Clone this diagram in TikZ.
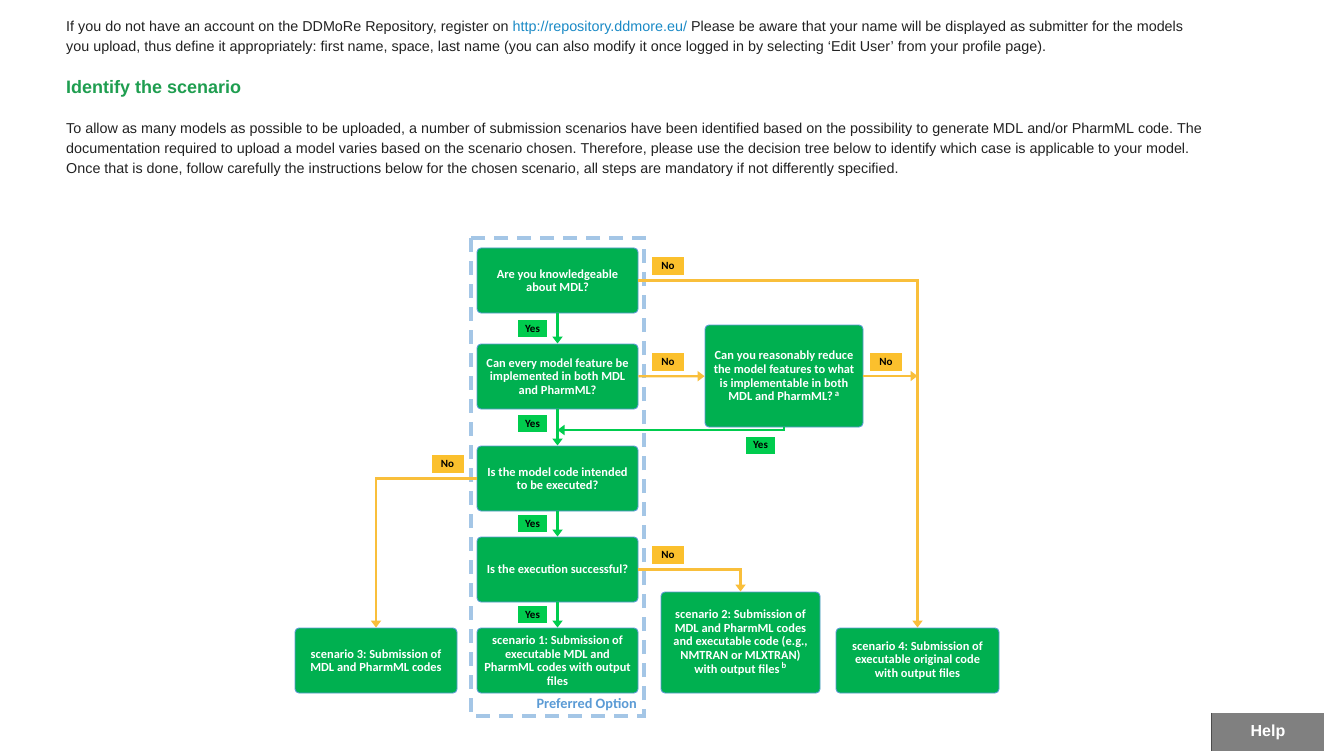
\documentclass[tikz,border=0pt]{standalone}
\usepackage{fontspec}
\usepackage{xcolor}
\usepackage{tikz}
\usetikzlibrary{arrows.meta}
\setmainfont{Liberation Sans}
\newfontfamily\flowfont{Carlito}
\frenchspacing

\definecolor{boxgreen}{HTML}{00B050}
\definecolor{boxedge}{HTML}{5B9BD5}
\definecolor{yesgreen}{HTML}{00CC4E}
\definecolor{nofill}{HTML}{FBC02D}
\definecolor{noline}{HTML}{F9BF3B}
\definecolor{dashblue}{HTML}{A4C6E6}
\definecolor{linkblue}{HTML}{1A8AC6}
\definecolor{headgreen}{HTML}{1F9E50}
\definecolor{bodytext}{HTML}{222222}

\begin{document}
\begin{tikzpicture}[x=1pt, y=-1pt,
    qbox/.style = {draw=boxedge, line width=0.9pt, fill=boxgreen, rounded corners=4pt,
      minimum width=161pt, minimum height=65pt, align=center, text=white,
      font=\flowfont\bfseries\fontsize{12.4}{13.6}\selectfont, inner sep=1pt},
    yeslab/.style = {fill=yesgreen, minimum width=29pt, minimum height=17pt, inner sep=0pt,
      font=\flowfont\bfseries\fontsize{11}{12}\selectfont},
    nolab/.style = {fill=nofill, minimum width=32pt, minimum height=18pt, inner sep=0pt,
      font=\flowfont\bfseries\fontsize{11}{12}\selectfont},
    yesline/.style = {draw=yesgreen, line width=2.2pt, -{Triangle[width=10pt,length=7pt]}},
    noline/.style = {draw=noline, line width=2.2pt, -{Triangle[width=10pt,length=7pt]}},
    bodyline/.style = {anchor=base west, inner sep=0pt, text=bodytext,
      font=\fontsize{14.35}{16}\selectfont}]
  \useasboundingbox[fill=white] (0,0) rectangle (1324,751);

  % page text
  \node[bodyline] (t1) at (66,32) {If you do not have an account on the DDMoRe Repository, register on \textcolor{linkblue}{http://repository.ddmore.eu/} Please be aware that your name will be displayed as submitter for the models};
  \node[bodyline] (t2) at (66,52) {you upload, thus define it appropriately: first name, space, last name (you can also modify it once logged in by selecting `Edit User' from your profile page).};
  \node[bodyline, text=headgreen, font=\bfseries\fontsize{18}{20}\selectfont] (head) at (66,94) {Identify the scenario};
  \node[bodyline] (p1) at (66,134) {To allow as many models as possible to be uploaded, a number of submission scenarios have been identified based on the possibility to generate MDL and/or PharmML code. The};
  \node[bodyline] (p2) at (66,154) {documentation required to upload a model varies based on the scenario chosen. Therefore, please use the decision tree below to identify which case is applicable to your model.};
  \node[bodyline] (p3) at (66,174) {Once that is done, follow carefully the instructions below for the chosen scenario, all steps are mandatory if not differently specified.};

  % preferred option frame
  \draw[dashblue, line width=3.5pt, dash pattern=on 14pt off 9pt] (471,238) rectangle (644,716);
  \node[anchor=base east, inner sep=0pt, text=boxedge, font=\flowfont\bfseries\fontsize{14.3}{16}\selectfont] (pref) at (637,708) {Preferred Option};

  % questions
  \node[qbox] (q1) at (557.5,280.5) {Are you knowledgeable\\about MDL?};
  \node[qbox] (q2) at (557.5,376.5) {Can every model feature be\\implemented in both MDL\\and PharmML?};
  \node[qbox] (q3) at (557.5,478.5) {Is the model code intended\\to be executed?};
  \node[qbox] (q4) at (557.5,569.5) {Is the execution successful?};
  \node[qbox, minimum width=158pt, minimum height=102pt] (r) at (784,376) {Can you reasonably reduce\\the model features to what\\is implementable in both\\MDL and PharmML?\,\textsuperscript{a}};

  % scenarios
  \node[qbox] (s1) at (557.5,660.5) {scenario 1: Submission of\\executable MDL and\\PharmML codes with output\\files};
  \node[qbox, minimum width=162pt] (s3) at (376,660.5) {scenario 3: Submission of\\MDL and PharmML codes};
  \node[qbox, minimum width=159pt, minimum height=101pt] (s2) at (740.5,642.5) {scenario 2: Submission of\\MDL and PharmML codes\\and executable code (e.g.,\\NMTRAN or MLXTRAN)\\with output files\,\textsuperscript{b}};
  \node[qbox, minimum width=163pt] (s4) at (917.5,660.5) {scenario 4: Submission of\\executable original code\\with output files};

  % yes paths
  \coordinate (join) at (557.5,430);
  \draw[yesline] (q1) -- (q2);
  \draw[yesline] (q2) -- (q3);
  \draw[yesline] (r.south) |- (join);
  \draw[yesline] (q3) -- (q4);
  \draw[yesline] (q4) -- (s1);

  % no paths
  \draw[noline] (q1.east) -| (s4.north);
  \draw[noline] (q2) -- (r);
  \draw[noline] (r.east) -- (r.east -| s4.north);
  \draw[noline] (q3.west) -| (s3.north);
  \draw[noline] (q4.east) -| (s2.north);

  % labels
  \node[yeslab] (y1) at (532.5,328.5) {Yes};
  \node[yeslab] (y2) at (532.5,423.5) {Yes};
  \node[yeslab] (y3) at (760.5,445) {Yes};
  \node[yeslab] (y4) at (532.5,523.5) {Yes};
  \node[yeslab] (y5) at (532.5,614.5) {Yes};
  \node[nolab] (n1) at (668,266) {No};
  \node[nolab] (n2) at (668,362) {No};
  \node[nolab] (n3) at (886,362) {No};
  \node[nolab] (n4) at (447.5,463.5) {No};
  \node[nolab] (n5) at (668,555) {No};

  % help button
  \node[fill=black!50, minimum width=112pt, minimum height=38pt, inner sep=0pt, text=white,
    font=\bfseries\fontsize{16}{18}\selectfont] (help) at (1268,732) {Help};
  \draw[black!70, line width=1pt] (help.north west) -- (help.south west);
\end{tikzpicture}
\end{document}
